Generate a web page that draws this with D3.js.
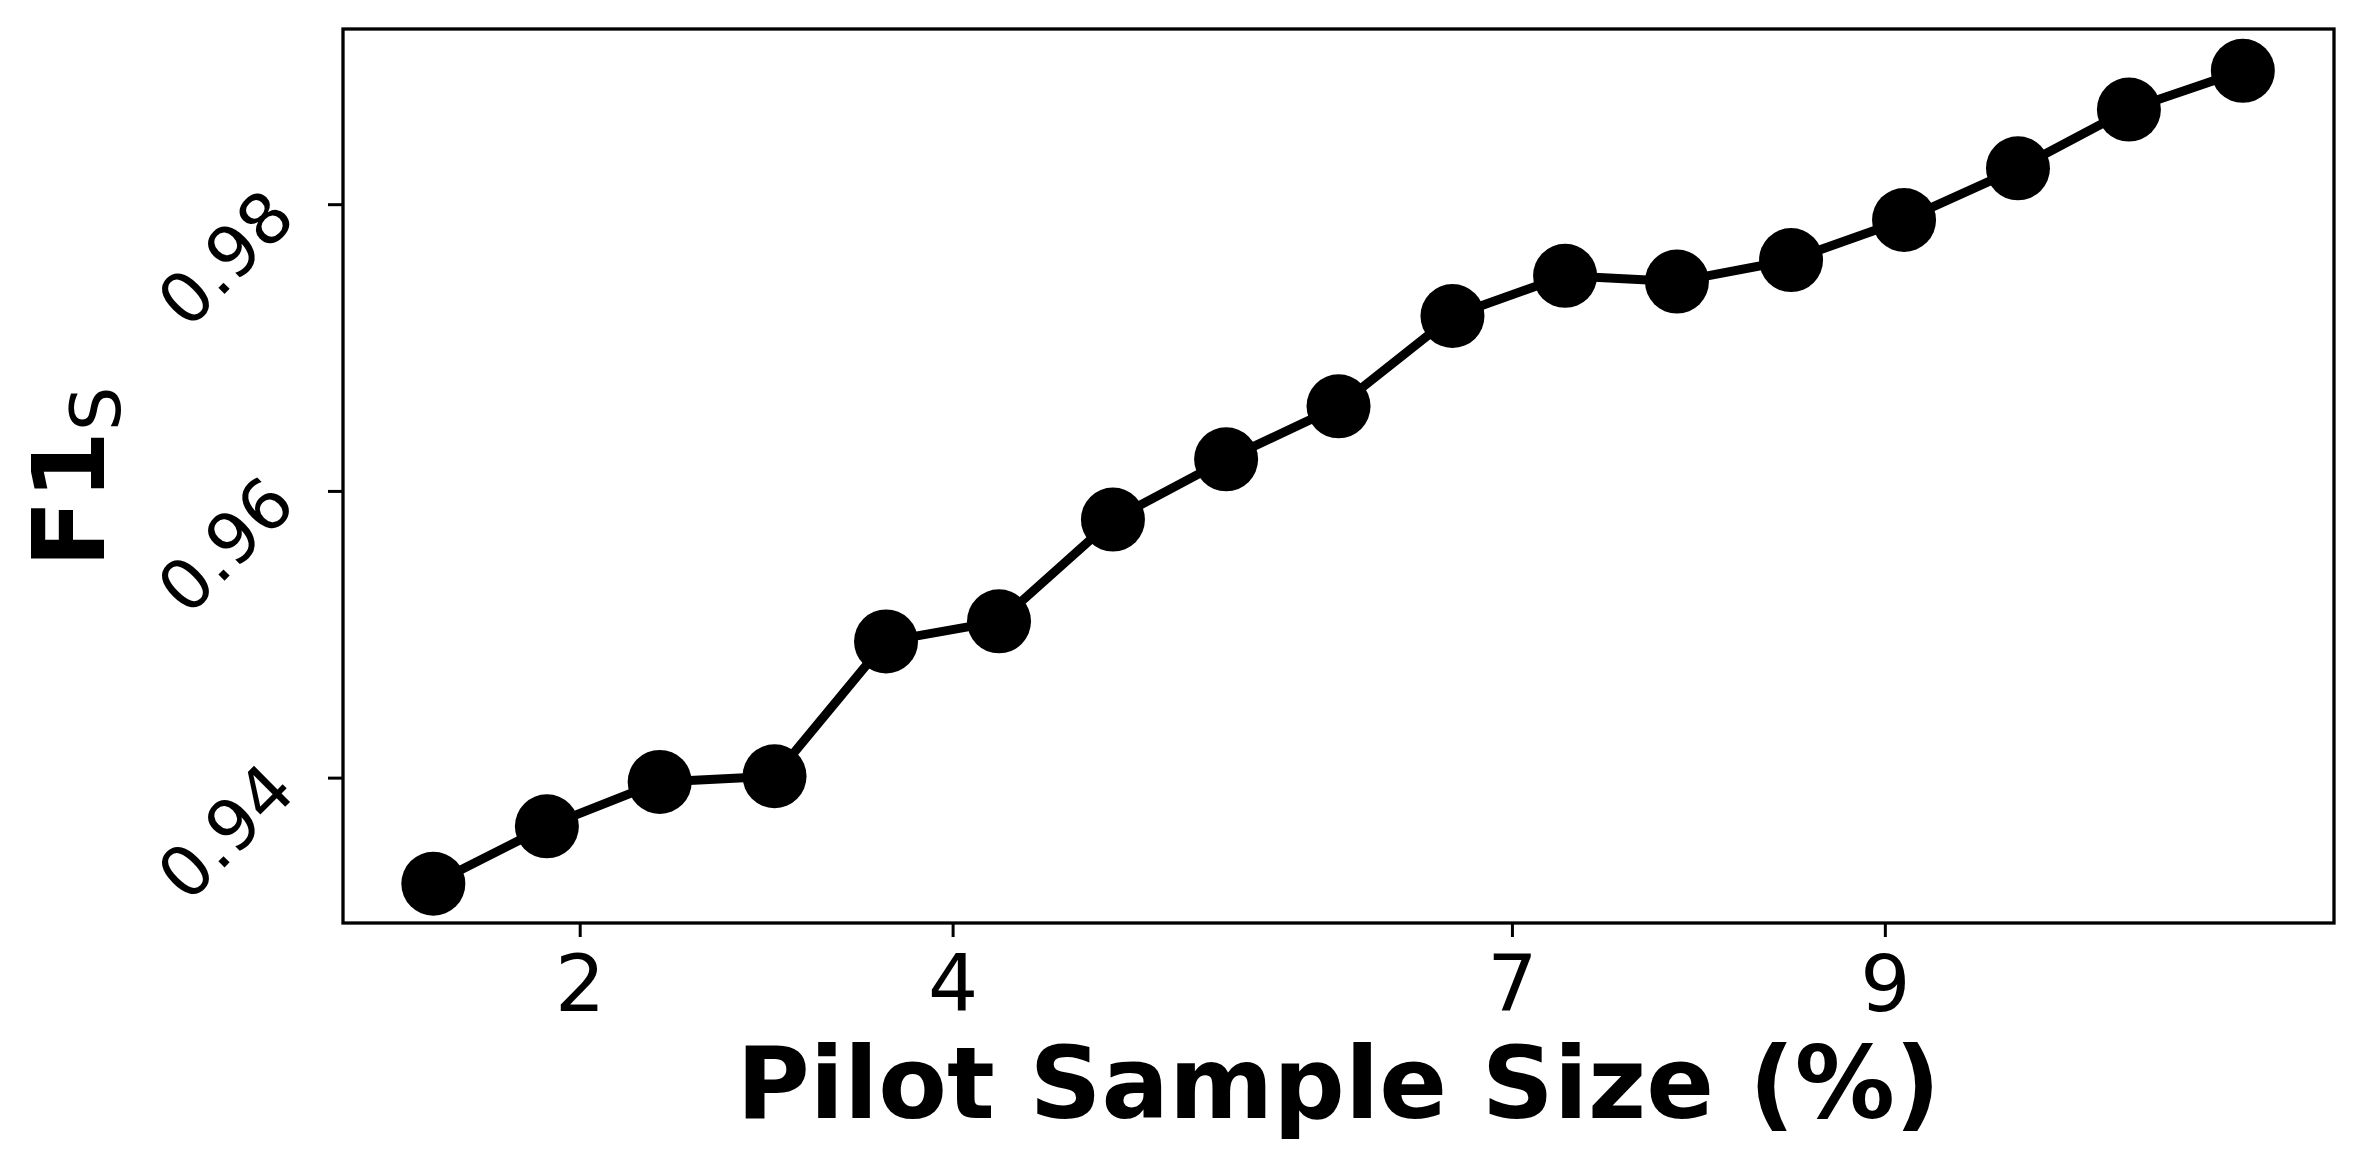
<!DOCTYPE html>
<html>
<head>
<meta charset="utf-8">
<script src="https://cdn.jsdelivr.net/npm/d3@7"></script>
<style>
  html, body { margin: 0; padding: 0; background: #fff; }
  svg { display: block; font-family: "DejaVu Sans", sans-serif; }
</style>
</head>
<body>
<svg id="chart" width="2363" height="1169"></svg>
<script>
// ---- data ----
const pilotSize = [1.215, 1.824, 2.429, 3.045, 3.643, 4.249, 4.860, 5.467, 6.070,
                   6.681, 7.285, 7.885, 8.497, 9.103, 9.714, 10.309, 10.920];
const f1Score   = [0.9326, 0.9366, 0.9397, 0.9401, 0.9495, 0.9509, 0.9580, 0.9622, 0.9659,
                   0.9722, 0.9750, 0.9746, 0.9761, 0.9789, 0.9825, 0.9866, 0.9893];
const xTicks = [2, 4, 7, 9];
const yTicks = [0.94, 0.96, 0.98];
const yTickLabels = ["0.94", "0.96", "0.98"];
const xLabel = "Pilot Sample Size (%)";

// ---- layout ----
const pLeft = 343, pRight = 2334, pTop = 29, pBottom = 923;
const svg = d3.select("#chart");

const x = d3.scaleLinear().domain([0.7305, 11.409]).range([pLeft, pRight]);
const y = d3.scaleLinear().domain([0.92986, 0.99222]).range([pBottom, pTop]);

// line + markers
const pts = pilotSize.map((v, i) => [v, f1Score[i]]);
svg.append("path")
  .datum(pts)
  .attr("fill", "none")
  .attr("stroke", "#000")
  .attr("stroke-width", 9)
  .attr("stroke-linejoin", "round")
  .attr("d", d3.line().x(d => x(d[0])).y(d => y(d[1])));

svg.selectAll("circle.pt")
  .data(pts)
  .enter().append("circle")
  .attr("class", "pt")
  .attr("cx", d => x(d[0]))
  .attr("cy", d => y(d[1]))
  .attr("r", 32)
  .attr("fill", "#000");

// frame
svg.append("rect")
  .attr("x", pLeft).attr("y", pTop)
  .attr("width", pRight - pLeft).attr("height", pBottom - pTop)
  .attr("fill", "none").attr("stroke", "#000").attr("stroke-width", 3.3);

// x axis
const xAxis = d3.axisBottom(x).tickValues(xTicks).tickSize(14).tickPadding(14)
  .tickFormat(d3.format("d"));
const gx = svg.append("g").attr("transform", `translate(0,${pBottom})`).call(xAxis);
gx.select(".domain").remove();
gx.selectAll(".tick line").attr("stroke", "#000").attr("stroke-width", 3);
gx.selectAll(".tick text")
  .attr("fill", "#000")
  .attr("font-family", "DejaVu Sans")
  .attr("font-size", 79)
  .attr("dy", null)
  .attr("y", 1011 - pBottom)
  .attr("dominant-baseline", "alphabetic");

// y axis
const yAxis = d3.axisLeft(y).tickValues(yTicks).tickSize(15)
  .tickFormat((d, i) => yTickLabels[i]);
const gy = svg.append("g").attr("transform", `translate(${pLeft},0)`).call(yAxis);
gy.select(".domain").remove();
gy.selectAll(".tick line").attr("stroke", "#000").attr("stroke-width", 3);
gy.selectAll(".tick text")
  .attr("fill", "#000")
  .attr("font-family", "DejaVu Sans")
  .attr("font-size", 70)
  .attr("x", null).attr("dy", null)
  .attr("text-anchor", "middle")
  .attr("dominant-baseline", "central")
  .attr("transform", "translate(-117,54) rotate(-45)");

// x label
svg.append("text")
  .attr("x", (pLeft + pRight) / 2)
  .attr("y", 1118)
  .attr("text-anchor", "middle")
  .attr("font-family", "DejaVu Sans")
  .attr("font-weight", "bold")
  .attr("font-size", 100)
  .attr("fill", "#000")
  .text(xLabel);

// y label  F1_S
const yl = svg.append("text")
  .attr("transform", `translate(104,477) rotate(-90)`)
  .attr("text-anchor", "middle")
  .attr("font-family", "DejaVu Sans")
  .attr("fill", "#000");
yl.append("tspan").attr("font-weight", "bold").attr("font-size", 99).text("F1");
yl.append("tspan").attr("font-size", 70).attr("dy", 16).text("S");
</script>
</body>
</html>
